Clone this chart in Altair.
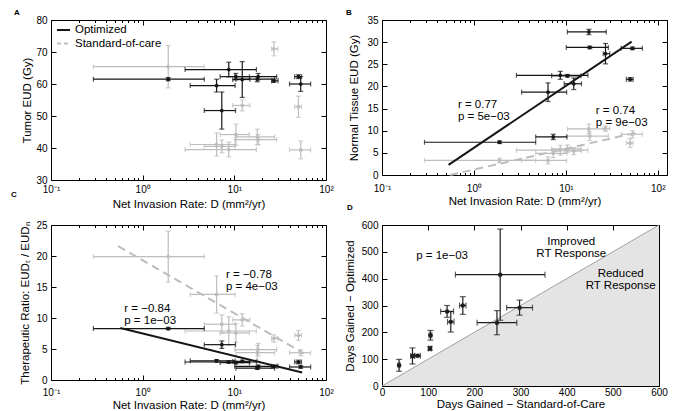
import altair as alt
import pandas as pd

# ---------------- data ----------------
D_rate = [1.9, 7.3, 6.4, 8.7, 10.4, 12.2, 17.8, 18.2, 27.0, 53.0, 50.0]
D_lo = [0.29, 4.7, 3.3, 2.9, 7.0, 9.6, 10.4, 10.1, 25.5, 40.0, 45.5]
D_hi = [4.7, 10.3, 10.2, 17.4, 14.6, 14.8, 27.5, 29.0, 30.0, 68.0, 54.0]

tumor_opt = [61.5, 51.7, 59.5, 64.5, 62.3, 61.4, 61.5, 62.3, 61.0, 60.0, 62.3]
tumor_opt_err = [0.5, 5.8, 2.0, 2.3, 1.0, 5.6, 0.8, 1.0, 0.5, 2.3, 0.6]
tumor_std = [65.4, 40.5, 41.1, 39.5, 44.2, 53.3, 43.5, 42.6, 71.0, 39.4, 52.9]
tumor_std_err = [6.6, 2.0, 3.6, 2.3, 3.3, 1.7, 2.4, 1.6, 2.2, 2.8, 3.3]

normal_opt = [7.4, 8.6, 18.7, 22.5, 22.4, 20.6, 32.3, 28.8, 27.4, 28.6, 21.6]
normal_opt_err = [0.3, 0.6, 2.1, 0.9, 0.3, 1.3, 0.6, 0.3, 2.3, 0.3, 0.4]
normal_std = [3.3, 4.9, 3.3, 5.6, 5.9, 5.4, 10.4, 8.8, 10.5, 9.2, 7.2]
normal_std_err = [0.5, 1.0, 0.8, 1.1, 0.9, 0.8, 1.1, 1.0, 0.6, 0.8, 1.0]

tr_opt = [8.3, 5.7, 3.1, 2.9, 2.8, 3.0, 1.9, 2.2, 2.2, 2.1, 2.9]
tr_opt_err = [0.2, 0.6, 0.2, 0.2, 0.2, 0.2, 0.2, 0.2, 0.2, 0.2, 0.3]
tr_std = [19.9, 9.0, 13.8, 7.9, 7.6, 9.7, 4.4, 4.9, 6.7, 4.4, 7.2]
tr_std_err = [4.1, 1.5, 3.0, 2.3, 1.5, 1.0, 1.2, 1.0, 0.6, 0.5, 0.8]

days_std = [37, 66, 77, 104, 105, 141, 149, 175, 249, 256, 298]
days_std_err = [2, 4, 6, 3, 3, 14, 7, 7, 43, 97, 28]
days_opt = [77, 112, 113, 140, 189, 278, 239, 300, 236, 415, 292]
days_opt_err = [22, 30, 3, 6, 18, 22, 38, 33, 45, 170, 28]

# regression lines (end points)
regB_opt_x = [0.53, 52.0]
regB_opt_y = [2.3, 30.1]
regB_std_x = [0.55, 60.0]
regB_std_y = [0.0, 9.6]
regC_opt_x = [0.57, 55.0]
regC_opt_y = [8.4, 1.2]
regC_std_x = [0.54, 57.0]
regC_std_y = [21.6, 4.3]

annB_x = [0.67, 21.2]
annB_y = [15.7, 14.5]
annB_t = ["r = 0.77\np = 5e\u221203", "r = 0.74\np = 9e\u221203"]
annC_x = [0.63, 8.1]
annC_y = [11.45, 16.9]
annC_t = ["r = \u22120.84\np = 1e\u221203", "r = \u22120.78\np = 4e\u221203"]

diag_x = [0, 600]
diag_y = [0, 600]
annD_x = [74, 410, 517]
annD_y = [484, 538, 417]
annD_t = ["p = 1e\u221203", "Improved\nRT Response", "Reduced\nRT Response"]

FONT = "Liberation Sans"
BLACK = "#151515"
GRAY = "#bdbdbd"

LOG_TICKS = [m * 10.0 ** e for e in (-1, 0, 1) for m in range(1, 10)] + [100.0]
MAJOR = "(datum.value == 0.1 || datum.value == 1 || datum.value == 10 || datum.value == 100)"
LOG_TICK_SIZE = alt.ExprRef(expr=MAJOR + " ? -5 : -2.5")
LOG_LABELS = ("datum.value == 0.1 ? '10\u207b\u00b9' : datum.value == 1 ? '10\u2070' : "
              "datum.value == 10 ? '10\u00b9' : datum.value == 100 ? '10\u00b2' : ''")
LIN_TICK = alt.ExprRef(expr="-5")


def sdf(x, lo, hi, vals, errs):
    return pd.DataFrame({
        "x": x, "lo": lo, "hi": hi, "val": vals,
        "vlo": [v - e for v, e in zip(vals, errs)],
        "vhi": [v + e for v, e in zip(vals, errs)],
    })


def errbar_layers(df, color, xs, ys, psize=14, cap=5, sw=1.2):
    base = alt.Chart(df)

    def X(f):
        return alt.X(f, type="quantitative", scale=xs, axis=None)

    def Y(f):
        return alt.Y(f, type="quantitative", scale=ys, axis=None)

    hr = base.mark_rule(color=color, strokeWidth=sw).encode(x=X("lo"), x2="hi", y=Y("val"))
    vr = base.mark_rule(color=color, strokeWidth=sw).encode(x=X("x"), y=Y("vlo"), y2="vhi")
    hc = base.transform_fold(["lo", "hi"], as_=["k", "cx"]).mark_tick(
        orient="vertical", color=color, size=cap, thickness=sw).encode(x=X("cx"), y=Y("val"))
    vc = base.transform_fold(["vlo", "vhi"], as_=["k", "cy"]).mark_tick(
        orient="horizontal", color=color, size=cap, thickness=sw).encode(x=X("x"), y=Y("cy"))
    pt = base.mark_point(filled=True, shape="circle", size=psize, color=color, opacity=1).encode(
        x=X("x"), y=Y("val"))
    return [hr, vr, hc, vc, pt]


def line_layer(xv, yv, color, xs, ys, dash=None):
    df = pd.DataFrame({"x": xv, "y": yv})
    kw = dict(color=color, strokeWidth=2)
    if dash:
        kw["strokeDash"] = dash
    return alt.Chart(df).mark_line(**kw).encode(
        x=alt.X("x:Q", scale=xs, axis=None), y=alt.Y("y:Q", scale=ys, axis=None))


def text_layer(xv, yv, tv, xs, ys, align="left"):
    df = pd.DataFrame({"x": xv, "y": yv, "t": tv})
    return alt.Chart(df).mark_text(align=align, baseline="middle", font=FONT, fontSize=11.5,
                                   lineBreak="\n", lineHeight=12, color="black").encode(
        x=alt.X("x:Q", scale=xs, axis=None), y=alt.Y("y:Q", scale=ys, axis=None), text="t:N")


def letter(ch, dx, dy):
    return alt.Chart(pd.DataFrame({"t": [ch]})).mark_text(
        text=ch, font=FONT, fontSize=8, fontWeight="bold", align="center", baseline="middle",
        color="black").encode(x=alt.value(dx), y=alt.value(dy))


def axis_layers(xs, ys, x0, y0, xbottom, yleft, xtop, yright):
    df = pd.DataFrame({"x": [x0], "y": [y0]})
    a1 = alt.Chart(df).mark_point(opacity=0).encode(
        x=alt.X("x:Q", scale=xs, axis=xbottom), y=alt.Y("y:Q", scale=ys, axis=yleft))
    a2 = alt.Chart(df).mark_point(opacity=0).encode(
        x=alt.X("x:Q", scale=xs, axis=xtop), y=alt.Y("y:Q", scale=ys, axis=yright))
    return [a1, a2]


def log_axes(title, lpad, tpad):
    bottom = alt.Axis(values=LOG_TICKS, labelExpr=LOG_LABELS, tickSize=LOG_TICK_SIZE,
                      labelPadding=lpad, labelOverlap=False, labelFlush=False, title=title,
                      titlePadding=tpad)
    top = alt.Axis(orient="top", values=LOG_TICKS, labels=False, tickSize=LOG_TICK_SIZE, title=None)
    return bottom, top


def lin_axes(values, title, tpad, lpad=9):
    left = alt.Axis(values=values, tickSize=LIN_TICK, labelPadding=lpad, title=title,
                    titlePadding=tpad, labelOverlap=False)
    right = alt.Axis(orient="right", values=values, labels=False, tickSize=LIN_TICK, title=None)
    return left, right


XTITLE = "Net Invasion Rate: D (mm\u00b2/yr)"

# ---------------- Panel A ----------------
xsA = alt.Scale(type="log", domain=[0.1, 100], nice=False)
ysA = alt.Scale(domain=[30, 80], nice=False, zero=False)
bA, tA = log_axes(XTITLE, 9, 2)
lA, rA = lin_axes([30, 40, 50, 60, 70, 80], "Tumor EUD (Gy)", 3)
dfA_std = sdf(D_rate, D_lo, D_hi, tumor_std, tumor_std_err)
dfA_opt = sdf(D_rate, D_lo, D_hi, tumor_opt, tumor_opt_err)
leg_df = pd.DataFrame({"t": ["x"]})
legend = [
    alt.Chart(leg_df).mark_rule(color=BLACK, strokeWidth=2).encode(
        x=alt.value(6), x2=alt.value(19), y=alt.value(10)),
    alt.Chart(leg_df).mark_rule(color=GRAY, strokeWidth=2, strokeDash=[4, 3]).encode(
        x=alt.value(6), x2=alt.value(19), y=alt.value(23.5)),
    alt.Chart(leg_df).mark_text(text="Optimized", align="left", baseline="middle", font=FONT,
                                fontSize=11.5, color="black").encode(x=alt.value(24), y=alt.value(10)),
    alt.Chart(leg_df).mark_text(text="Standard-of-care", align="left", baseline="middle", font=FONT,
                                fontSize=11.5, color="black").encode(x=alt.value(24), y=alt.value(23.5)),
]
panelA = alt.layer(
    *errbar_layers(dfA_std, GRAY, xsA, ysA),
    *errbar_layers(dfA_opt, BLACK, xsA, ysA),
    *legend,
    letter("A", -34, -7.5),
    *axis_layers(xsA, ysA, 0.1, 30, bA, lA, tA, rA),
).resolve_axis(x="independent", y="independent").properties(width=275, height=160)

# ---------------- Panel B ----------------
xsB = alt.Scale(type="log", domain=[0.1, 126], nice=False)
ysB = alt.Scale(domain=[0, 35], nice=False, zero=False)
bB, tB = log_axes(XTITLE, 13, 0)
lB, rB = lin_axes([0, 5, 10, 15, 20, 25, 30, 35], "Normal Tissue EUD (Gy)", 7)
dfB_std = sdf(D_rate, D_lo, D_hi, normal_std, normal_std_err)
dfB_opt = sdf(D_rate, D_lo, D_hi, normal_opt, normal_opt_err)
panelB = alt.layer(
    *errbar_layers(dfB_std, GRAY, xsB, ysB),
    line_layer(regB_std_x, regB_std_y, GRAY, xsB, ysB, dash=[8, 5]),
    *errbar_layers(dfB_opt, BLACK, xsB, ysB),
    line_layer(regB_opt_x, regB_opt_y, BLACK, xsB, ysB),
    text_layer(annB_x, annB_y, annB_t, xsB, ysB),
    letter("B", -33, -7.5),
    *axis_layers(xsB, ysB, 0.1, 0, bB, lB, tB, rB),
).resolve_axis(x="independent", y="independent").properties(width=285, height=155)

# ---------------- Panel C ----------------
xsC = alt.Scale(type="log", domain=[0.1, 100], nice=False)
ysC = alt.Scale(domain=[0, 25], nice=False, zero=False)
bC, tC = log_axes(XTITLE, 12, 0)
lC, rC = lin_axes([0, 5, 10, 15, 20, 25],
                  "Therapeutic Ratio: EUD\u209c / EUD\u2099", 5)
dfC_std = sdf(D_rate, D_lo, D_hi, tr_std, tr_std_err)
dfC_opt = sdf(D_rate, D_lo, D_hi, tr_opt, tr_opt_err)
panelC = alt.layer(
    *errbar_layers(dfC_std, GRAY, xsC, ysC),
    line_layer(regC_std_x, regC_std_y, GRAY, xsC, ysC, dash=[8, 5]),
    *errbar_layers(dfC_opt, BLACK, xsC, ysC),
    line_layer(regC_opt_x, regC_opt_y, BLACK, xsC, ysC),
    text_layer(annC_x, annC_y, annC_t, xsC, ysC),
    letter("C", -37, -30),
    *axis_layers(xsC, ysC, 0.1, 0, bC, lC, tC, rC),
).resolve_axis(x="independent", y="independent").properties(width=275, height=155)

# ---------------- Panel D ----------------
xsD = alt.Scale(domain=[0, 600], nice=False, zero=False)
ysD = alt.Scale(domain=[0, 600], nice=False, zero=False)
HUND = [0, 100, 200, 300, 400, 500, 600]
bD = alt.Axis(values=HUND, tickSize=LIN_TICK, labelPadding=6, title="Days Gained \u2212 Standard-of-Care",
              titlePadding=1, labelOverlap=False, labelFlush=False)
tD = alt.Axis(orient="top", values=HUND, labels=False, tickSize=LIN_TICK, title=None)
lD, rD = lin_axes(HUND, "Days Gained \u2212 Optimized", 6)
diag = pd.DataFrame({"x": diag_x, "y": diag_y})
tri = alt.Chart(diag).mark_area(color="#e4e4e4", opacity=1).encode(
    x=alt.X("x:Q", scale=xsD, axis=None), y=alt.Y("y:Q", scale=ysD, axis=None), y2=alt.datum(0))
dline = alt.Chart(diag).mark_line(color="#8c8c8c", strokeWidth=0.8).encode(
    x=alt.X("x:Q", scale=xsD, axis=None), y=alt.Y("y:Q", scale=ysD, axis=None))
dfD = sdf(days_std, [a - b for a, b in zip(days_std, days_std_err)],
          [a + b for a, b in zip(days_std, days_std_err)], days_opt, days_opt_err)
annD_left = text_layer(annD_x[:1], annD_y[:1], annD_t[:1], xsD, ysD, align="left")
annD_center = text_layer(annD_x[1:], annD_y[1:], annD_t[1:], xsD, ysD, align="center")
panelD = alt.layer(
    tri, dline,
    *errbar_layers(dfD, "#1e1e1e", xsD, ysD, psize=20, cap=6),
    annD_left, annD_center,
    letter("D", -32, -17),
    *axis_layers(xsD, ysD, 0, 0, bD, lD, tD, rD),
).resolve_axis(x="independent", y="independent").properties(width=277, height=161)

chart = alt.concat(
    panelA, panelB, panelC, panelD, columns=2,
    spacing=alt.RowColnumber(row=45, column=56),
    bounds="flush",
    padding={"left": 2, "top": 0, "right": 0, "bottom": 0},
).configure_view(stroke="black", strokeWidth=1).configure_axis(
    labelFont=FONT, titleFont=FONT, labelFontSize=10, titleFontSize=11.5,
    titleFontWeight="normal", labelColor="black", titleColor="black",
    tickColor="black", tickWidth=1, domain=False, grid=False, zindex=1,
)

chart.save("out.html", embed_options={"renderer": "svg", "actions": False})
